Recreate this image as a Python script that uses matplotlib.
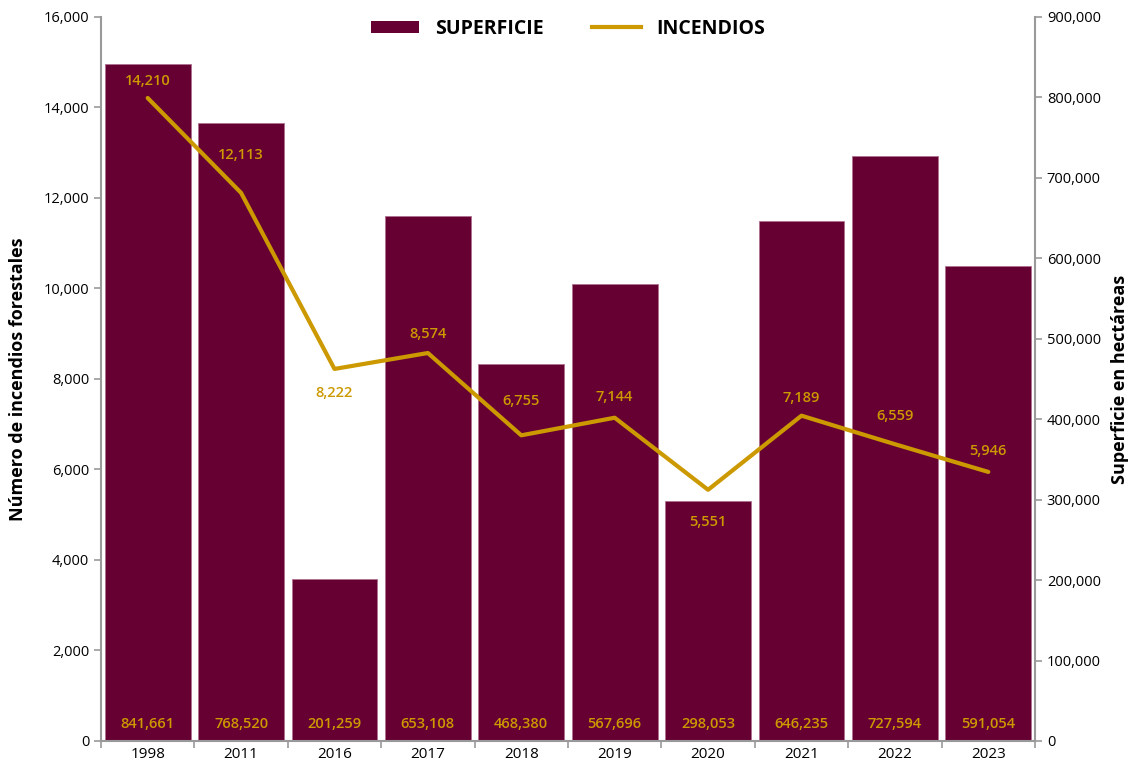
import numpy as np
import matplotlib
matplotlib.use("Agg")
import matplotlib.pyplot as plt
from matplotlib.lines import Line2D
from matplotlib.patches import Patch

plt.rcParams['font.family'] = ['Open Sans', 'DejaVu Sans']

# datos
years = ["1998", "2011", "2016", "2017", "2018", "2019", "2020", "2021", "2022", "2023"]
superficie = [841661, 768520, 201259, 653108, 468380, 567696, 298053, 646235, 727594, 591054]
incendios = [14210, 12113, 8222, 8574, 6755, 7144, 5551, 7189, 6559, 5946]

# desplazamiento vertical de las etiquetas de la línea (puntos)
label_offsets = [12, 27, -17, 14, 25, 15, -23, 13, 20, 15]

bar_color = "#660033"
line_color = "#CC9900"
axis_grey = "#999999"

fig = plt.figure(figsize=(11.32, 7.65), dpi=100)
ax = fig.add_axes([0.0892, 0.0314, 0.8251, 0.9464])
ax2 = ax.twinx()

x = np.arange(len(years))

# barras: superficie (eje derecho)
ax2.bar(x, superficie, width=0.92, color=bar_color, edgecolor="#b07090", linewidth=0.6)
ax2.set_ylim(0, 900000)
ax2.set_yticks(np.arange(0, 900001, 100000))
ax2.set_yticklabels([f"{v:,}" for v in range(0, 900001, 100000)])
for xi, v in zip(x, superficie):
    ax2.text(xi, 13000, f"{v:,}", ha="center", va="bottom", color=line_color,
             fontsize=10.5, fontweight="semibold")

# línea: incendios (eje izquierdo)
ax.plot(x, incendios, color=line_color, linewidth=3, solid_capstyle="round")
ax.set_ylim(0, 16000)
ax.set_yticks(np.arange(0, 16001, 2000))
ax.set_yticklabels([f"{v:,}" for v in range(0, 16001, 2000)])
for xi, v, off in zip(x, incendios, label_offsets):
    ax.annotate(f"{v:,}", (xi, v), xytext=(0, off), textcoords="offset points",
                ha="center", va="center", color=line_color, fontsize=10.5,
                fontweight="semibold")

ax.set_zorder(ax2.get_zorder() + 1)
ax.patch.set_visible(False)

ax.set_xlim(-0.5, len(years) - 0.5)
ax.set_xticks(np.arange(-0.5, len(years), 1.0))
ax.set_xticklabels([])
ax.set_xticks(x, minor=True)
ax.set_xticklabels(years, minor=True, fontsize=11)
ax.tick_params(axis="x", which="minor", length=0, pad=4)
ax.tick_params(axis="x", which="major", length=5, color=axis_grey, width=1.2)

for a in (ax, ax2):
    a.spines["top"].set_visible(False)
    for s in ("left", "right", "bottom"):
        a.spines[s].set_color(axis_grey)
        a.spines[s].set_linewidth(1.5)
ax.spines["right"].set_visible(False)
ax2.spines["left"].set_visible(False)
ax2.spines["bottom"].set_visible(False)

ax.tick_params(axis="y", length=5, color=axis_grey, labelsize=10.5, width=1.2)
ax2.tick_params(axis="y", length=5, color=axis_grey, labelsize=10.5, width=1.2)

ax.set_ylabel("Número de incendios forestales", fontsize=13, fontweight="bold", labelpad=12)
ax2.set_ylabel("Superficie en hectáreas", fontsize=13, fontweight="bold", labelpad=7)

handles = [Patch(facecolor=bar_color, label="SUPERFICIE"),
           Line2D([0], [0], color=line_color, linewidth=3, label="INCENDIOS")]
ax.legend(handles=handles, loc="upper center", bbox_to_anchor=(0.5, 1.022), ncol=2,
          frameon=False, prop={"weight": "bold", "size": 14}, handlelength=2.5,
          handleheight=0.6, columnspacing=2.5)

fig.savefig("out.png", dpi=100)
